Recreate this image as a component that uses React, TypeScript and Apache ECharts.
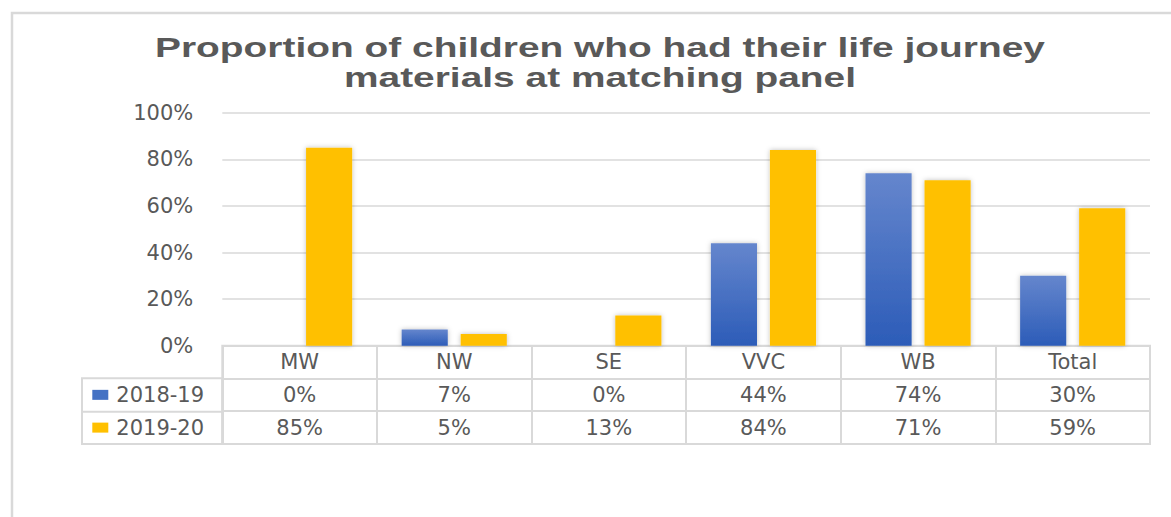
import React, { useEffect, useRef } from "react";
import * as echarts from "echarts";

const titleLines = [
  "Proportion of children who had their life journey",
  "materials at matching panel",
];
const categories = ["MW", "NW", "SE", "VVC", "WB", "Total"];
const seriesNames = ["2018-19", "2019-20"];
const values2018 = [0, 7, 0, 44, 74, 30];
const values2019 = [85, 5, 13, 84, 71, 59];
const yTicks = [0, 20, 40, 60, 80, 100];

const TEXT = "#595959";
const GRIDC = "#d9d9d9";
const FONT = "DejaVu Sans";

export default function App() {
  const ref = useRef<HTMLDivElement>(null);
  useEffect(() => {
    if (!ref.current) return;
    const chart = echarts.init(ref.current, undefined, { renderer: "svg" });
    const gl = 222.3;
    const gw = 927.7;
    const top1 = 112.7;
    const h1 = 233;
    const h2 = 98.3;

    const cells: any[] = [];
    categories.forEach((c, i) => cells.push([i, 0, c]));
    values2018.forEach((v, i) => cells.push([i, 1, v + "%"]));
    values2019.forEach((v, i) => cells.push([i, 2, v + "%"]));

    const blue = new echarts.graphic.LinearGradient(0, 0, 0, 1, [
      { offset: 0, color: "#6586cd" },
      { offset: 1, color: "#2c5cb8" },
    ]);

    chart.setOption({
      animation: false,
      graphic: [
        {
          type: "rect",
          shape: { x: 12, y: 13, width: 1300, height: 700 },
          style: { fill: "none", stroke: GRIDC, lineWidth: 2.5 },
          silent: true,
        },
        {
          type: "text",
          x: 600,
          y: 32,
          scaleX: 1.44,
          silent: true,
          style: {
            text: titleLines.join("\n"),
            align: "center",
            verticalAlign: "top",
            fontFamily: "Liberation Sans",
            fontWeight: "bold",
            fontSize: 27,
            lineHeight: 30.5,
            fill: TEXT,
          },
        },
        {
          type: "rect",
          shape: { x: 82, y: 378.3, width: gl - 82, height: 65.7 },
          style: { fill: "none", stroke: GRIDC, lineWidth: 2 },
          silent: true,
        },
        {
          type: "line",
          shape: { x1: 82, y1: 411.7, x2: gl, y2: 411.7 },
          style: { stroke: GRIDC, lineWidth: 2 },
          silent: true,
        },
      ],
      grid: [
        { left: gl, top: top1, width: gw, height: h1, containLabel: false },
        {
          left: gl,
          top: top1 + h1,
          width: gw,
          height: h2,
          show: true,
          borderColor: GRIDC,
          borderWidth: 2,
          backgroundColor: "transparent",
        },
      ],
      xAxis: [
        {
          type: "category",
          gridIndex: 0,
          data: categories,
          axisLine: { show: false },
          axisTick: { show: false },
          axisLabel: { show: false },
        },
        {
          type: "category",
          gridIndex: 1,
          data: categories,
          axisLine: { show: false },
          axisTick: { show: false, interval: 0 },
          axisLabel: { show: false, interval: 0 },
          splitLine: { show: true, interval: 0, lineStyle: { color: GRIDC, width: 2 } },
        },
      ],
      yAxis: [
        {
          type: "value",
          gridIndex: 0,
          min: yTicks[0],
          max: yTicks[yTicks.length - 1],
          interval: 20,
          axisLine: { show: false },
          axisTick: { show: false },
          axisLabel: {
            formatter: "{value}%",
            color: TEXT,
            fontFamily: FONT,
            fontSize: 21,
            margin: 29,
          },
          splitLine: { lineStyle: { color: GRIDC, width: 1.5 } },
        },
        {
          type: "category",
          gridIndex: 1,
          inverse: true,
          data: ["", ...seriesNames],
          axisLine: { show: false },
          axisTick: { show: false, interval: 0 },
          splitLine: { show: true, interval: 0, lineStyle: { color: GRIDC, width: 2 } },
          axisLabel: {
            interval: 0,
            align: "left",
            margin: gl - 92.3,
            formatter: (v: string) =>
              v === seriesNames[0]
                ? "{s1|}{t|" + v + "}"
                : v === seriesNames[1]
                ? "{s2|}{t|" + v + "}"
                : "",
            rich: {
              s1: { width: 16, height: 10, backgroundColor: "#4472c4" },
              s2: { width: 16, height: 10, backgroundColor: "#ffc000" },
              t: {
                padding: [0, 0, 0, 8],
                fontFamily: FONT,
                fontSize: 21,
                color: TEXT,
              },
            },
          },
        },
      ],
      series: [
        {
          name: seriesNames[0],
          type: "bar",
          xAxisIndex: 0,
          yAxisIndex: 0,
          data: values2018,
          barGap: "28%",
          barCategoryGap: "32%",
          itemStyle: {
            color: blue,
            shadowBlur: 5,
            shadowColor: "rgba(0,0,0,0.25)",
          },
        },
        {
          name: seriesNames[1],
          type: "bar",
          xAxisIndex: 0,
          yAxisIndex: 0,
          data: values2019,
          barGap: "28%",
          barCategoryGap: "32%",
          itemStyle: {
            color: "#ffc000",
            shadowBlur: 5,
            shadowColor: "rgba(0,0,0,0.25)",
          },
        },
        {
          type: "custom",
          xAxisIndex: 1,
          yAxisIndex: 1,
          data: cells,
          silent: true,
          renderItem: (params: any, api: any) => {
            const p = api.coord([api.value(0), api.value(1)]);
            const item = cells[params.dataIndex];
            return {
              type: "text",
              x: p[0],
              y: p[1],
              style: {
                text: String(item[2]),
                align: "center",
                verticalAlign: "middle",
                fontFamily: FONT,
                fontSize: 21,
                fill: TEXT,
              },
            };
          },
        },
      ],
    });
    return () => chart.dispose();
  }, []);
  return (
    <div
      ref={ref}
      style={{ position: "absolute", left: 0, top: 0, width: 1171, height: 517, background: "#fff" }}
    />
  );
}
